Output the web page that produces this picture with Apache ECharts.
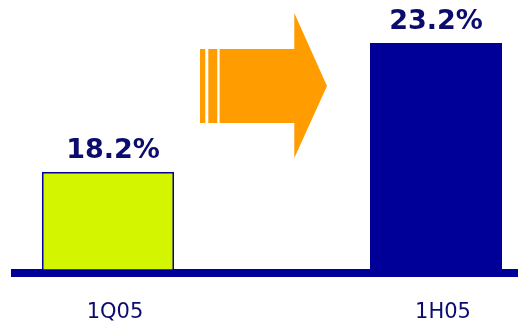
<!DOCTYPE html>
<html>
<head>
<meta charset="utf-8">
<style>
  html, body { margin: 0; padding: 0; background: #ffffff; }
  #chart { width: 518px; height: 326px; }
</style>
<script src="https://cdn.jsdelivr.net/npm/echarts@6/dist/echarts.min.js"></script>
</head>
<body>
<div id="chart"></div>
<script>
// Periods and the ratio reported for each (percent)
var periods = ['1Q05', '1H05'];
var ratios = [18.2, 23.2];
var barColors = ['#d4f500', '#000099'];

var navy = '#000099';
var textNavy = '#0c0c6e';
var orange = '#ff9c00';

// each period gets its own narrow grid so the bars sit at the chart's ends
var slots = [
  { left: 11, right: 313 },
  { left: 354, right: 0 }
];
var labelShift = [[5, 0], [0, 0]];

var grids = [], xAxes = [], yAxes = [], series = [];

periods.forEach(function (name, i) {
  grids.push({ left: slots[i].left, right: slots[i].right, top: 1, bottom: 56 });
  xAxes.push({
    gridIndex: i,
    type: 'category',
    data: [name],
    axisLine: { show: false },
    axisTick: { show: false },
    axisLabel: {
      margin: 32,
      padding: [0, 0, 0, 14],
      fontFamily: 'DejaVu Sans',
      fontSize: 21,
      color: textNavy
    }
  });
  yAxes.push({ gridIndex: i, type: 'value', min: 14.4, max: 24.83, show: false });
  series.push({
    type: 'bar',
    name: name,
    xAxisIndex: i,
    yAxisIndex: i,
    barWidth: 132,
    z: 3,
    data: [ratios[i]],
    itemStyle: {
      color: barColors[i],
      borderColor: navy,
      borderWidth: i === 0 ? 1.5 : 0
    },
    label: {
      show: true,
      position: 'top',
      distance: 8,
      offset: labelShift[i],
      formatter: function (p) { return p.value.toFixed(1) + '%'; },
      fontFamily: 'DejaVu Sans',
      fontWeight: 'bold',
      fontSize: 27,
      color: textNavy
    }
  });
});

// baseline rule under both bars
var base = grids.length;
grids.push({ left: 11, right: 0, top: 1, bottom: 52.8 });
xAxes.push({
  gridIndex: base,
  type: 'category',
  data: [],
  axisLine: { show: true, lineStyle: { color: navy, width: 8, cap: 'butt' } },
  axisTick: { show: false },
  axisLabel: { show: false }
});
yAxes.push({ gridIndex: base, type: 'value', min: 0, max: 1, show: false });

var chart = echarts.init(document.getElementById('chart'), null, { renderer: 'canvas' });

chart.setOption({
  animation: false,
  backgroundColor: '#ffffff',
  grid: grids,
  xAxis: xAxes,
  yAxis: yAxes,
  series: series,
  graphic: [
    {
      // progress arrow between the two periods
      type: 'group',
      left: 200,
      top: 13,
      children: [
        { type: 'rect', shape: { x: 0.7, y: 36, width: 5.3, height: 74 }, style: { fill: orange } },
        { type: 'rect', shape: { x: 9, y: 36, width: 9, height: 74 }, style: { fill: orange } },
        {
          type: 'polygon',
          shape: {
            points: [[20.3, 36], [95, 36], [95, 0], [127.7, 73], [95, 145], [95, 110], [20.3, 110]]
          },
          style: { fill: orange }
        }
      ]
    }
  ]
});
</script>
</body>
</html>
